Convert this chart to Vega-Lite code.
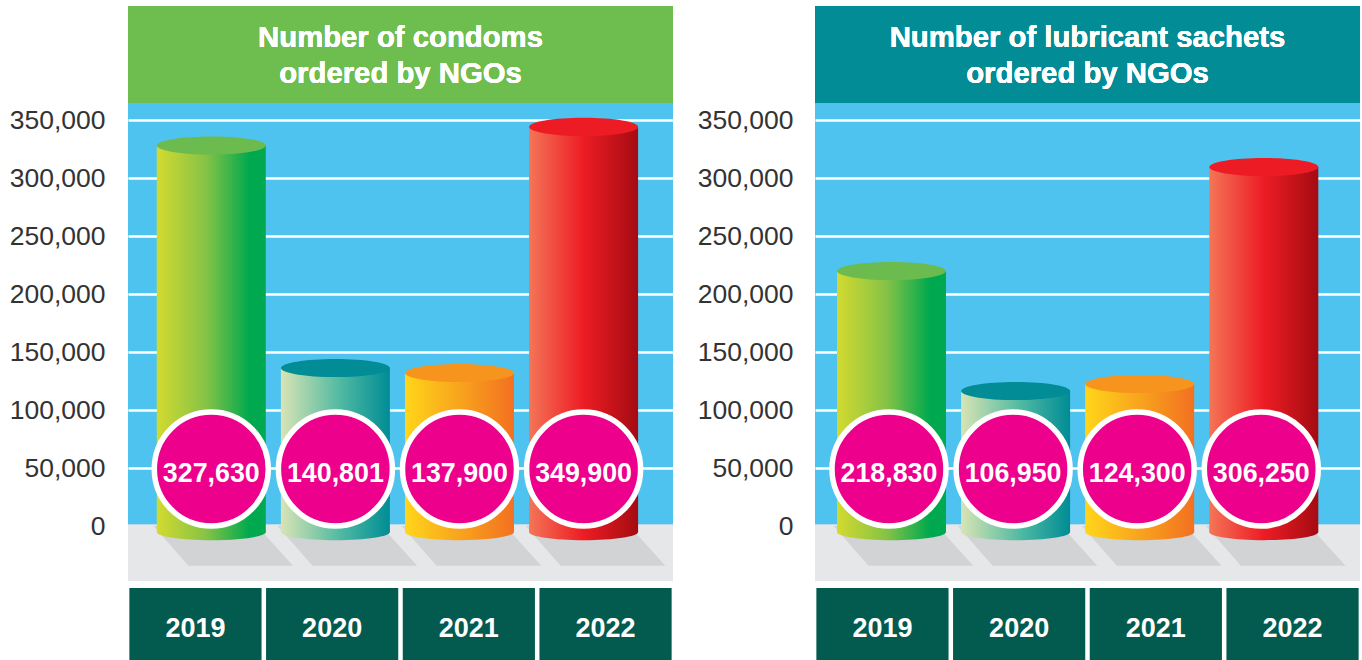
{"$schema":"https://vega.github.io/schema/vega-lite/v6.json","padding":{"left":9,"top":6,"right":0,"bottom":0},"background":"#ffffff","bounds":"flush","spacing":142,"config":{"font":"Liberation Sans","numberFormat":",","axisY":{"grid":true,"gridColor":"#ffffff","gridWidth":2.5,"gridOpacity":1,"domain":false,"ticks":false,"labelFontSize":26.5,"labelColor":"#333333"}},"datasets":{"condoms":[{"year":2019,"value":327630,"drawn":328000},{"year":2020,"value":140801,"drawn":136200},{"year":2021,"value":137900,"drawn":131900},{"year":2022,"value":349900,"drawn":344000}],"lube":[{"year":2019,"value":218830,"drawn":219800},{"year":2020,"value":106950,"drawn":116400},{"year":2021,"value":124300,"drawn":122400},{"year":2022,"value":306250,"drawn":309500}]},"hconcat":[{"width":545,"height":654,"data":{"name":"condoms"},"view":{"fill":"#4fc3ef","stroke":null},"resolve":{"scale":{"x":"independent"}},"layer":[{"mark":{"type":"rect","color":"#e6e7e9"},"encoding":{"y":{"datum":1000,"type":"quantitative","scale":{"domain":[-115517,448276],"nice":false,"zero":false},"axis":{"title":null}},"y2":{"datum":-47414}}},{"mark":{"type":"rect","color":"#ffffff"},"encoding":{"y":{"datum":-47414,"type":"quantitative","axis":{"title":null}},"y2":{"datum":-115517}}},{"mark":{"type":"rect","color":"#6dbd4f"},"encoding":{"y":{"datum":364655,"type":"quantitative","axis":{"title":null}},"y2":{"datum":448276}}},{"mark":{"type":"text","text":["Number of condoms","ordered by NGOs"],"fontSize":29.3,"fontWeight":"bold","color":"#ffffff","lineHeight":36,"align":"center","baseline":"middle"},"encoding":{"y":{"datum":420690,"type":"quantitative","axis":{"title":null}}}},{"mark":{"type":"point","shape":"M-1.06,0L-0.42,0.73L1.5,0.73L0.84,0Z","size":11881,"filled":true,"opacity":1,"color":"#d1d3d4"},"encoding":{"x":{"field":"year","type":"quantitative","axis":null,"scale":{"domain":[2018.3288,2022.7204],"nice":false,"zero":false}},"y":{"datum":0,"type":"quantitative","axis":{"title":null}}}},{"mark":{"type":"bar","orient":"vertical","width":109},"encoding":{"x":{"field":"year","type":"quantitative","axis":null,"scale":{"domain":[2018.3288,2022.7204],"nice":false,"zero":false,"padding":0}},"y":{"field":"drawn","type":"quantitative","axis":{"title":null,"values":[0,50000,100000,150000,200000,250000,300000,350000],"labelExpr":"format(datum.value, ',')","grid":true,"labelPadding":23}},"y2":{"datum":-5172},"color":{"condition":[{"test":"datum.year===2019","value":{"gradient":"linear","x1":0,"y1":0,"x2":1,"y2":0,"stops":[{"offset":0,"color":"#d3da2f"},{"offset":0.45,"color":"#86c346"},{"offset":0.85,"color":"#00a94f"},{"offset":1,"color":"#00a94f"}]}},{"test":"datum.year===2020","value":{"gradient":"linear","x1":0,"y1":0,"x2":1,"y2":0,"stops":[{"offset":0,"color":"#d8e4b4"},{"offset":0.55,"color":"#4fb9a2"},{"offset":1,"color":"#008c95"}]}},{"test":"datum.year===2021","value":{"gradient":"linear","x1":0,"y1":0,"x2":1,"y2":0,"stops":[{"offset":0,"color":"#ffd51a"},{"offset":0.6,"color":"#f79a1e"},{"offset":1,"color":"#f37021"}]}}],"value":{"gradient":"linear","x1":0,"y1":0,"x2":1,"y2":0,"stops":[{"offset":0,"color":"#f47557"},{"offset":0.5,"color":"#ed1c24"},{"offset":1,"color":"#a50b12"}]}}}},{"mark":{"type":"point","shape":"M-1,0A1,0.15 0 1,0 1,0A1,0.15 0 1,0 -1,0Z","size":11881,"filled":true,"opacity":1},"encoding":{"x":{"field":"year","type":"quantitative","axis":null,"scale":{"domain":[2018.3288,2022.7204],"nice":false,"zero":false}},"y":{"datum":-5172,"type":"quantitative","axis":{"title":null}},"color":{"condition":[{"test":"datum.year===2019","value":{"gradient":"linear","x1":0,"y1":0,"x2":1,"y2":0,"stops":[{"offset":0,"color":"#d3da2f"},{"offset":0.45,"color":"#86c346"},{"offset":0.85,"color":"#00a94f"},{"offset":1,"color":"#00a94f"}]}},{"test":"datum.year===2020","value":{"gradient":"linear","x1":0,"y1":0,"x2":1,"y2":0,"stops":[{"offset":0,"color":"#d8e4b4"},{"offset":0.55,"color":"#4fb9a2"},{"offset":1,"color":"#008c95"}]}},{"test":"datum.year===2021","value":{"gradient":"linear","x1":0,"y1":0,"x2":1,"y2":0,"stops":[{"offset":0,"color":"#ffd51a"},{"offset":0.6,"color":"#f79a1e"},{"offset":1,"color":"#f37021"}]}}],"value":{"gradient":"linear","x1":0,"y1":0,"x2":1,"y2":0,"stops":[{"offset":0,"color":"#f47557"},{"offset":0.5,"color":"#ed1c24"},{"offset":1,"color":"#a50b12"}]}}}},{"mark":{"type":"point","shape":"M-1,0A1,0.167 0 1,0 1,0A1,0.167 0 1,0 -1,0Z","size":11881,"filled":true,"opacity":1},"encoding":{"x":{"field":"year","type":"quantitative","axis":null,"scale":{"domain":[2018.3288,2022.7204],"nice":false,"zero":false}},"y":{"field":"drawn","type":"quantitative","axis":{"title":null}},"color":{"condition":[{"test":"datum.year===2019","value":"#6cbb4e"},{"test":"datum.year===2020","value":"#028c96"},{"test":"datum.year===2021","value":"#f7941e"}],"value":"#ed1c24"}}},{"mark":{"type":"point","shape":"circle","size":12996,"filled":true,"opacity":1,"color":"#ec008c","stroke":"#ffffff","strokeWidth":5.5},"encoding":{"x":{"field":"year","type":"quantitative","axis":null,"scale":{"domain":[2018.3288,2022.7204],"nice":false,"zero":false}},"y":{"datum":49138,"type":"quantitative","axis":{"title":null}}}},{"mark":{"type":"text","fontSize":26.8,"fontWeight":"bold","color":"#ffffff","align":"center","baseline":"middle"},"encoding":{"x":{"field":"year","type":"quantitative","axis":null,"scale":{"domain":[2018.3288,2022.7204],"nice":false,"zero":false}},"y":{"datum":44800,"type":"quantitative","axis":{"title":null}},"text":{"field":"value","type":"quantitative","format":","}}},{"mark":{"type":"rect","color":"#035a4e"},"encoding":{"x":{"field":"year","type":"nominal","axis":null,"scale":{"type":"band","paddingInner":0.033,"paddingOuter":0.01}},"y":{"datum":-53448,"type":"quantitative","axis":{"title":null}},"y2":{"datum":-115517}}},{"mark":{"type":"text","fontSize":27,"fontWeight":"bold","color":"#ffffff","align":"center","baseline":"middle"},"encoding":{"x":{"field":"year","type":"nominal","axis":null,"scale":{"type":"band","paddingInner":0.033,"paddingOuter":0.01}},"y":{"datum":-88400,"type":"quantitative","axis":{"title":null}},"text":{"field":"year","type":"nominal"}}}]},{"width":545,"height":654,"data":{"name":"lube"},"view":{"fill":"#4fc3ef","stroke":null},"resolve":{"scale":{"x":"independent"}},"layer":[{"mark":{"type":"rect","color":"#e6e7e9"},"encoding":{"y":{"datum":1000,"type":"quantitative","scale":{"domain":[-115517,448276],"nice":false,"zero":false},"axis":{"title":null}},"y2":{"datum":-47414}}},{"mark":{"type":"rect","color":"#ffffff"},"encoding":{"y":{"datum":-47414,"type":"quantitative","axis":{"title":null}},"y2":{"datum":-115517}}},{"mark":{"type":"rect","color":"#028c96"},"encoding":{"y":{"datum":364655,"type":"quantitative","axis":{"title":null}},"y2":{"datum":448276}}},{"mark":{"type":"text","text":["Number of lubricant sachets","ordered by NGOs"],"fontSize":29.3,"fontWeight":"bold","color":"#ffffff","lineHeight":36,"align":"center","baseline":"middle"},"encoding":{"y":{"datum":420690,"type":"quantitative","axis":{"title":null}}}},{"mark":{"type":"point","shape":"M-1.06,0L-0.42,0.73L1.5,0.73L0.84,0Z","size":11881,"filled":true,"opacity":1,"color":"#d1d3d4"},"encoding":{"x":{"field":"year","type":"quantitative","axis":null,"scale":{"domain":[2018.3836,2022.7752],"nice":false,"zero":false}},"y":{"datum":0,"type":"quantitative","axis":{"title":null}}}},{"mark":{"type":"bar","orient":"vertical","width":109},"encoding":{"x":{"field":"year","type":"quantitative","axis":null,"scale":{"domain":[2018.3836,2022.7752],"nice":false,"zero":false,"padding":0}},"y":{"field":"drawn","type":"quantitative","axis":{"title":null,"values":[0,50000,100000,150000,200000,250000,300000,350000],"labelExpr":"format(datum.value, ',')","grid":true,"labelPadding":22}},"y2":{"datum":-5172},"color":{"condition":[{"test":"datum.year===2019","value":{"gradient":"linear","x1":0,"y1":0,"x2":1,"y2":0,"stops":[{"offset":0,"color":"#d3da2f"},{"offset":0.45,"color":"#86c346"},{"offset":0.85,"color":"#00a94f"},{"offset":1,"color":"#00a94f"}]}},{"test":"datum.year===2020","value":{"gradient":"linear","x1":0,"y1":0,"x2":1,"y2":0,"stops":[{"offset":0,"color":"#d8e4b4"},{"offset":0.55,"color":"#4fb9a2"},{"offset":1,"color":"#008c95"}]}},{"test":"datum.year===2021","value":{"gradient":"linear","x1":0,"y1":0,"x2":1,"y2":0,"stops":[{"offset":0,"color":"#ffd51a"},{"offset":0.6,"color":"#f79a1e"},{"offset":1,"color":"#f37021"}]}}],"value":{"gradient":"linear","x1":0,"y1":0,"x2":1,"y2":0,"stops":[{"offset":0,"color":"#f47557"},{"offset":0.5,"color":"#ed1c24"},{"offset":1,"color":"#a50b12"}]}}}},{"mark":{"type":"point","shape":"M-1,0A1,0.15 0 1,0 1,0A1,0.15 0 1,0 -1,0Z","size":11881,"filled":true,"opacity":1},"encoding":{"x":{"field":"year","type":"quantitative","axis":null,"scale":{"domain":[2018.3836,2022.7752],"nice":false,"zero":false}},"y":{"datum":-5172,"type":"quantitative","axis":{"title":null}},"color":{"condition":[{"test":"datum.year===2019","value":{"gradient":"linear","x1":0,"y1":0,"x2":1,"y2":0,"stops":[{"offset":0,"color":"#d3da2f"},{"offset":0.45,"color":"#86c346"},{"offset":0.85,"color":"#00a94f"},{"offset":1,"color":"#00a94f"}]}},{"test":"datum.year===2020","value":{"gradient":"linear","x1":0,"y1":0,"x2":1,"y2":0,"stops":[{"offset":0,"color":"#d8e4b4"},{"offset":0.55,"color":"#4fb9a2"},{"offset":1,"color":"#008c95"}]}},{"test":"datum.year===2021","value":{"gradient":"linear","x1":0,"y1":0,"x2":1,"y2":0,"stops":[{"offset":0,"color":"#ffd51a"},{"offset":0.6,"color":"#f79a1e"},{"offset":1,"color":"#f37021"}]}}],"value":{"gradient":"linear","x1":0,"y1":0,"x2":1,"y2":0,"stops":[{"offset":0,"color":"#f47557"},{"offset":0.5,"color":"#ed1c24"},{"offset":1,"color":"#a50b12"}]}}}},{"mark":{"type":"point","shape":"M-1,0A1,0.167 0 1,0 1,0A1,0.167 0 1,0 -1,0Z","size":11881,"filled":true,"opacity":1},"encoding":{"x":{"field":"year","type":"quantitative","axis":null,"scale":{"domain":[2018.3836,2022.7752],"nice":false,"zero":false}},"y":{"field":"drawn","type":"quantitative","axis":{"title":null}},"color":{"condition":[{"test":"datum.year===2019","value":"#6cbb4e"},{"test":"datum.year===2020","value":"#028c96"},{"test":"datum.year===2021","value":"#f7941e"}],"value":"#ed1c24"}}},{"mark":{"type":"point","shape":"circle","size":12996,"filled":true,"opacity":1,"color":"#ec008c","stroke":"#ffffff","strokeWidth":5.5,"xOffset":-2.5},"encoding":{"x":{"field":"year","type":"quantitative","axis":null,"scale":{"domain":[2018.3836,2022.7752],"nice":false,"zero":false}},"y":{"datum":49138,"type":"quantitative","axis":{"title":null}}}},{"mark":{"type":"text","fontSize":26.8,"fontWeight":"bold","color":"#ffffff","align":"center","baseline":"middle","xOffset":-2.5},"encoding":{"x":{"field":"year","type":"quantitative","axis":null,"scale":{"domain":[2018.3836,2022.7752],"nice":false,"zero":false}},"y":{"datum":44800,"type":"quantitative","axis":{"title":null}},"text":{"field":"value","type":"quantitative","format":","}}},{"mark":{"type":"rect","color":"#035a4e"},"encoding":{"x":{"field":"year","type":"nominal","axis":null,"scale":{"type":"band","paddingInner":0.033,"paddingOuter":0.01}},"y":{"datum":-53448,"type":"quantitative","axis":{"title":null}},"y2":{"datum":-115517}}},{"mark":{"type":"text","fontSize":27,"fontWeight":"bold","color":"#ffffff","align":"center","baseline":"middle"},"encoding":{"x":{"field":"year","type":"nominal","axis":null,"scale":{"type":"band","paddingInner":0.033,"paddingOuter":0.01}},"y":{"datum":-88400,"type":"quantitative","axis":{"title":null}},"text":{"field":"year","type":"nominal"}}}]}]}
